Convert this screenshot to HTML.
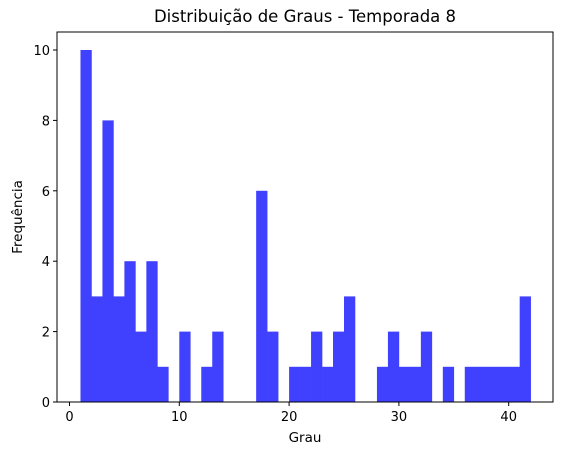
<!DOCTYPE html>
<html><head><meta charset="utf-8"><style>
body{margin:0;background:#fff}
svg text{font-family:"DejaVu Sans","Liberation Sans",sans-serif;fill:#000}
</style></head><body>
<svg width="563" height="455">
<text x="305" y="22" font-size="16.5" text-anchor="middle">Distribuição de Graus - Temporada 8</text>
<g id="bars"></g>
<g id="axes"></g>
<text x="305" y="442" font-size="13.5" text-anchor="middle">Grau</text>
<text transform="translate(22,217) rotate(-90)" font-size="13.5" text-anchor="middle">Frequência</text>
</svg>
<script>
const binEdgesStart = [1,2,3,4,5,6,7,8,9,10,11,12,13,14,15,16,17,18,19,20,21,22,23,24,25,26,27,28,29,30,31,32,33,34,35,36,37,38,39,40,41];
const counts = [10,3,8,3,4,2,4,1,0,2,0,1,2,0,0,0,6,2,0,1,1,2,1,2,3,0,0,1,2,1,1,2,0,1,0,1,1,1,1,1,3];
const binWidth = 1;
const xTicks = [0,10,20,30,40];
const yTicks = [0,2,4,6,8,10];
const L=57,R=553,T=32,B=402;
const xs=v=>69.5+v*10.98;
const ys=v=>B-v*35.2;
const NS="http://www.w3.org/2000/svg";
const bars=document.getElementById('bars'),axes=document.getElementById('axes');
function mk(t,a,p){const e=document.createElementNS(NS,t);for(const k in a)e.setAttribute(k,a[k]);p.appendChild(e);return e;}
counts.forEach((c,i)=>{if(!c)return;
 const x0=xs(binEdgesStart[i]),x1=xs(binEdgesStart[i]+binWidth);
 const r=mk('rect',{x:x0,y:ys(c),width:x1-x0+0.3,height:B-ys(c),fill:'#4040ff'},bars);
 
 
});
mk('rect',{x:L,y:T,width:R-L,height:B-T,fill:'none',stroke:'#000','stroke-width':1},axes);
xTicks.forEach(v=>{const x=xs(v);
 mk('line',{x1:x,x2:x,y1:B,y2:B+4,stroke:'#000'},axes);
 const t=mk('text',{x:x,y:B+19,'font-size':13,'text-anchor':'middle'},axes);t.textContent=v;
 
 
});
yTicks.forEach(v=>{const y=ys(v);
 mk('line',{x1:L-4,x2:L,y1:y,y2:y,stroke:'#000'},axes);
 const t=mk('text',{x:L-7,y:y+5,'font-size':13,'text-anchor':'end'},axes);t.textContent=v;
 
 
});
</script>
</body></html>
